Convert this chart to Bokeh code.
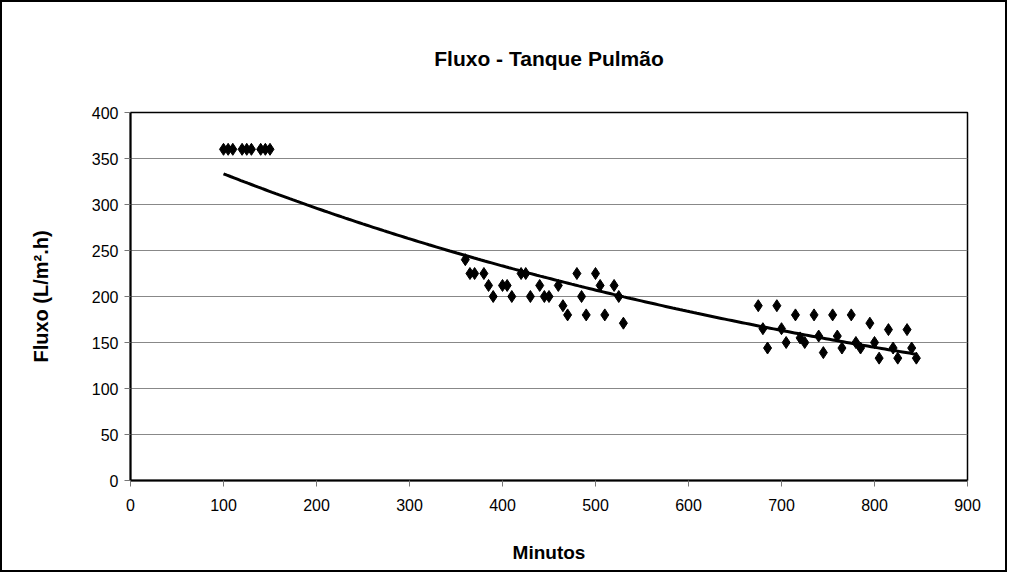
import numpy as np
from bokeh.plotting import figure
from bokeh.models import FixedTicker, Range1d
from bokeh.embed import file_html
from bokeh.resources import INLINE

x1 = [100, 105, 110, 120, 125, 130, 140, 145, 150]
y1 = [360, 360, 360, 360, 360, 360, 360, 360, 360]

x2 = [360, 365, 370, 380, 385, 400, 405, 390, 410, 420, 425, 430, 440, 445, 450,
      460, 465, 470, 480, 485, 490, 500, 505, 510, 520, 525, 530]
y2 = [240, 225, 225, 225, 212, 212, 212, 200, 200, 225, 225, 200, 212, 200, 200,
      212, 190, 180, 225, 200, 180, 225, 212, 180, 212, 200, 171]

x3 = [675, 680, 685, 695, 700, 705, 715, 720, 725, 735, 740, 745, 755, 760, 765,
      775, 780, 785, 795, 800, 805, 815, 820, 825, 835, 840, 845]
y3 = [190, 165, 144, 190, 165, 150, 180, 155, 150, 180, 157, 139, 180, 157, 144,
      180, 150, 144, 171, 150, 133, 164, 144, 133, 164, 144, 133]

TITLE = "Fluxo - Tanque Pulmão"
XLABEL = "Minutos"
YLABEL = "Fluxo (L/m².h)"

xs = np.array(x1 + x2 + x3, dtype=float)
ys = np.array(y1 + y2 + y3, dtype=float)

# exponential trendline (least squares on ln y, as spreadsheet trendlines do)
b, lna = np.polyfit(xs, np.log(ys), 1)
tx = np.linspace(xs.min(), xs.max(), 200)
ty = np.exp(lna) * np.exp(b * tx)

FONT = "Liberation Sans"

p = figure(width=1007, height=572, output_backend="svg", toolbar_location=None,
           x_range=Range1d(0, 900), y_range=Range1d(0, 400),
           min_border_left=128, min_border_right=42, min_border_top=0,
           min_border_bottom=94)
p.styles = {"border": "2px solid black"}

p.title.text = TITLE
p.title.align = "center"
p.title.text_font = FONT
p.title.text_font_size = "21px"
p.title.text_font_style = "bold"
p.title.text_color = "black"
p.title.offset = 0
p.title.standoff = 85

p.xaxis.ticker = FixedTicker(ticks=list(range(0, 901, 100)))
p.yaxis.ticker = FixedTicker(ticks=list(range(0, 401, 50)))
p.xaxis.axis_label = XLABEL
p.yaxis.axis_label = YLABEL
for ax in (p.xaxis[0], p.yaxis[0]):
    ax.axis_label_text_font = FONT
    ax.axis_label_text_font_size = "19px"
    ax.axis_label_text_font_style = "bold"
    ax.axis_label_text_color = "black"
    ax.major_label_text_font = FONT
    ax.major_label_text_font_size = "16px"
    ax.major_label_text_color = "black"
    ax.axis_line_color = "black"
    ax.axis_line_width = 2
    ax.major_tick_line_color = "#777777"
    ax.major_tick_in = 0
    ax.major_tick_out = 6
    ax.minor_tick_line_color = None
p.yaxis.axis_label_text_font_size = "20px"
p.xaxis.axis_label_standoff = 28
p.yaxis.axis_label_standoff = 37
p.xaxis.major_label_standoff = 12
p.yaxis.major_label_standoff = 6

p.xgrid.grid_line_color = None
p.ygrid.grid_line_color = "#888888"
p.ygrid.grid_line_width = 1
p.outline_line_color = "black"
p.outline_line_width = 1.5

p.line(tx, ty, line_color="black", line_width=3)
p.scatter(xs, ys, marker="diamond", size=12, fill_color="black", line_color="black")

open("out.html", "w").write(file_html(p, INLINE))
